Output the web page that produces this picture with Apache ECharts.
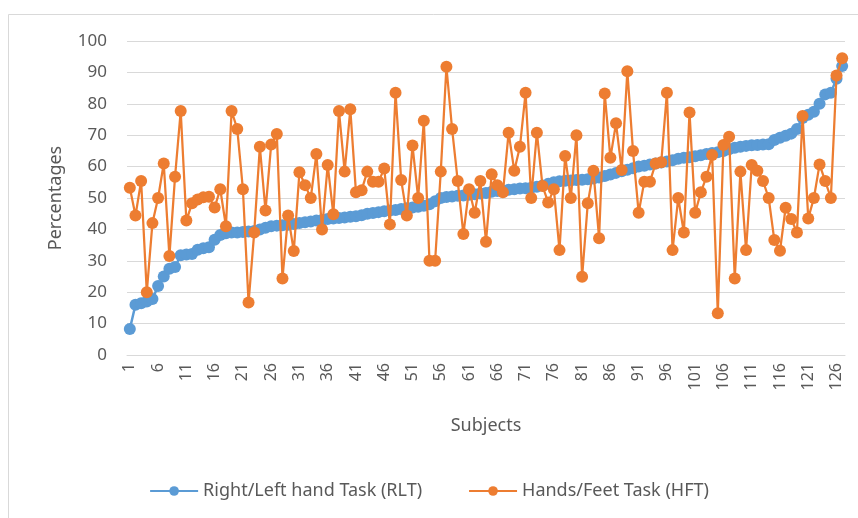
<!DOCTYPE html>
<html>
<head>
<meta charset="utf-8">
<script src="https://cdn.jsdelivr.net/npm/echarts@6/dist/echarts.min.js"></script>
<style>
  html, body { margin: 0; padding: 0; background: #fff; }
  #chart { width: 858px; height: 518px; }
</style>
</head>
<body>
<div id="chart"></div>
<script>
// subjects 1..127
var subjects = [];
for (var i = 1; i <= 127; i++) subjects.push(String(i));

var rlt = [
  8.3, 16, 16.5, 17, 17.8, 22, 25, 27.5, 28, 31.8,
  32, 32.2, 33.5, 34, 34.3, 36.7, 38.2, 38.8, 39, 39,
  39.2, 39.3, 39.5, 40, 40.5, 41, 41.2, 41.3, 41.5, 41.7,
  42, 42.3, 42.5, 42.8, 43, 43.3, 43.5, 43.6, 43.8, 44,
  44.2, 44.5, 45, 45.2, 45.5, 45.8, 46, 46.2, 46.5, 46.7,
  47, 47.2, 47.5, 48, 49, 50, 50.3, 50.5, 50.7, 50.8,
  51, 51.2, 51.4, 51.6, 52, 52.2, 52.4, 52.6, 52.8, 53,
  53.1, 53.3, 53.6, 54, 54.5, 55, 55.3, 55.5, 55.6, 55.7,
  55.8, 56, 56.2, 56.5, 57, 57.5, 58, 58.5, 59, 59.5,
  60, 60.3, 60.7, 61, 61.3, 61.6, 62, 62.5, 62.8, 63,
  63.3, 63.6, 64, 64.3, 64.6, 65, 65.5, 66, 66.3, 66.6,
  66.8, 66.9, 67, 67.1, 68.5, 69.2, 69.8, 70.5, 72, 75.5,
  76.5, 77.5, 80, 83, 83.5, 88, 92
];

var hft = [
  53.3, 44.4, 55.4, 20, 42, 50, 61, 31.5, 56.8, 77.7,
  42.8, 48.3, 49.5, 50.2, 50.4, 47, 52.8, 41, 77.7, 72,
  52.8, 16.7, 39, 66.3, 46, 67, 70.4, 24.4, 44.4, 33.1,
  58.2, 54.1, 50, 64, 40, 60.5, 44.8, 77.7, 58.4, 78.3,
  51.8, 52.5, 58.4, 55.2, 55.2, 59.4, 41.6, 83.5, 55.7, 44.4,
  66.7, 50, 74.6, 30, 30, 58.4, 91.8, 72, 55.4, 38.5,
  52.8, 45.3, 55.4, 36.1, 57.6, 54.1, 51.8, 70.8, 58.7, 66.3,
  83.5, 50, 70.8, 53.8, 48.6, 52.8, 33.4, 63.4, 50, 70,
  24.9, 48.3, 58.7, 37.2, 83.3, 62.8, 73.8, 58.9, 90.4, 65,
  45.3, 55.2, 55.2, 61, 61.4, 83.5, 33.4, 50, 39, 77.2,
  45.3, 51.8, 56.8, 63.7, 13.3, 66.9, 69.5, 24.4, 58.4, 33.4,
  60.5, 58.7, 55.4, 50, 36.6, 33.2, 46.9, 43.3, 39, 76.1,
  43.5, 50, 60.7, 55.4, 50, 89, 94.5
];

var FONT = 'Noto Sans';
var TXT = '#595959';

var chart = echarts.init(document.getElementById('chart'), null, { renderer: 'canvas' });

chart.setOption({
  backgroundColor: '#fff',
  animation: false,
  textStyle: { fontFamily: FONT },
  graphic: [{
    type: 'rect',
    shape: { x: 8.5, y: 14.5, width: 860, height: 520 },
    style: { fill: 'none', stroke: '#d9d9d9', lineWidth: 1 },
    silent: true
  }],
  grid: { left: 127, right: 13, top: 41, bottom: 163 },
  legend: {
    bottom: 13,
    left: 'center',
    itemWidth: 48,
    itemHeight: 12,
    itemGap: 46,
    textStyle: { color: TXT, fontSize: 18, fontFamily: FONT },
    data: ['Right/Left hand Task (RLT)', 'Hands/Feet Task (HFT)']
  },
  xAxis: {
    type: 'category',
    data: subjects,
    boundaryGap: true,
    name: 'Subjects',
    nameLocation: 'middle',
    nameGap: 62,
    nameTextStyle: { color: TXT, fontSize: 18, fontFamily: FONT },
    axisLine: { show: true, lineStyle: { color: '#d9d9d9' } },
    axisTick: { show: false },
    axisLabel: {
      interval: 4,
      rotate: 90,
      margin: 8,
      color: TXT,
      fontSize: 16,
      fontFamily: FONT
    },
    splitLine: { show: false }
  },
  yAxis: {
    type: 'value',
    min: 0,
    max: 100,
    interval: 10,
    name: 'Percentages',
    nameLocation: 'middle',
    nameGap: 62,
    nameTextStyle: { color: TXT, fontSize: 18, fontFamily: FONT },
    axisLine: { show: false },
    axisTick: { show: false },
    axisLabel: { color: TXT, fontSize: 17, margin: 20, fontFamily: FONT },
    splitLine: { lineStyle: { color: '#d9d9d9', width: 1 } }
  },
  series: [
    {
      name: 'Right/Left hand Task (RLT)',
      type: 'line',
      data: rlt,
      symbol: 'circle',
      symbolSize: 12,
      showAllSymbol: true,
      color: '#5B9BD5',
      lineStyle: { width: 2.5, color: '#5B9BD5' },
      itemStyle: { color: '#5B9BD5' },
      z: 2
    },
    {
      name: 'Hands/Feet Task (HFT)',
      type: 'line',
      data: hft,
      symbol: 'circle',
      symbolSize: 12,
      showAllSymbol: true,
      color: '#ED7D31',
      lineStyle: { width: 2.25, color: '#ED7D31' },
      itemStyle: { color: '#ED7D31' },
      z: 3
    }
  ]
});
</script>
</body>
</html>
